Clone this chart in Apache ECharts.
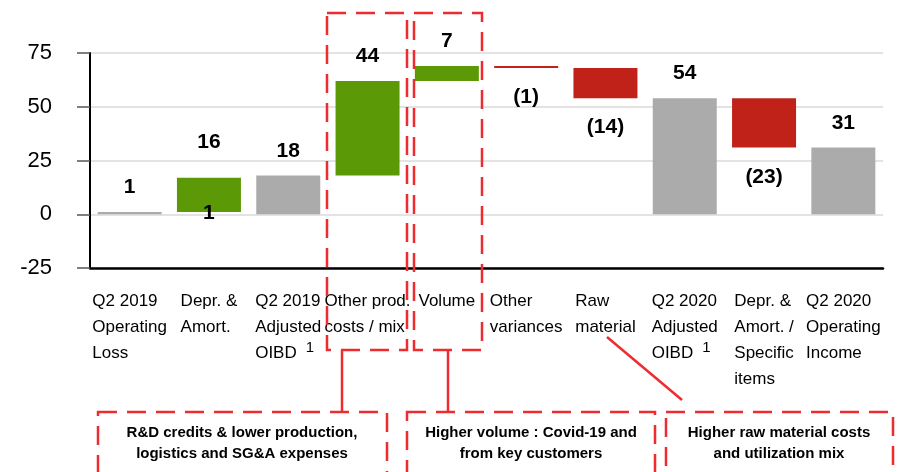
<!DOCTYPE html>
<html>
<head>
<meta charset="utf-8">
<title>Q2 2019 to Q2 2020 operating income bridge</title>
<script src="https://cdn.jsdelivr.net/npm/echarts@6/dist/echarts.min.js"></script>
<style>
  html, body { margin: 0; padding: 0; background: #fff; }
  #chart { width: 900px; height: 472px; }
</style>
</head>
<body>
<div id="chart"></div>
<script>
// Bridge categories (line breaks are drawn as stacked label lines)
const categories = [
  'Q2 2019\nOperating\nLoss',
  'Depr. &\nAmort.',
  'Q2 2019\nAdjusted\nOIBD',
  'Other prod.\ncosts / mix',
  'Volume',
  'Other\nvariances',
  'Raw\nmaterial',
  'Q2 2020\nAdjusted\nOIBD',
  'Depr. &\nAmort. /\nSpecific\nitems',
  'Q2 2020\nOperating\nIncome'
];
// Categories carrying footnote marker "1"
const footnoted = [2, 7];
// Bar type per step: totals start from zero, the others float on the running level
const kinds = ['total', 'increase', 'total', 'increase', 'increase', 'decrease', 'decrease', 'total', 'decrease', 'total'];
// Amount of each step (millions)
const amounts = [1, 16, 18, 44, 7, -1, -14, 54, -23, 31];
// Y axis ticks
const yMin = -25, yMax = 75, yStep = 25;

const colors = { total: '#ABABAB', increase: '#5B9A06', decrease: '#C0221A' };
const annotationRed = '#EE2B2F';

// Running level: invisible offset + visible bar height
const offsets = [];
const heights = [];
let level = 0;
kinds.forEach((k, i) => {
  const a = amounts[i];
  if (k === 'total') { offsets.push(0); heights.push(a); level = a; }
  else if (k === 'increase') { offsets.push(level); heights.push(a); level += a; }
  else { level += a; offsets.push(level); heights.push(-a); }
});

const fmt = v => v < 0 ? '(' + Math.abs(v) + ')' : String(v);

const visibleData = heights.map((h, i) => {
  const neg = amounts[i] < 0;
  return {
    value: h,
    itemStyle: { color: colors[kinds[i]] },
    label: {
      show: true,
      position: neg ? 'bottom' : 'top',
      distance: neg ? 19 : 14,
      offset: i === 1 ? [0, -11] : [0, 0],
      formatter: () => fmt(amounts[i])
    }
  };
});

// The starting level of the first floating step is marked at its foot
const offsetData = offsets.map((o, i) => ({
  value: o,
  label: i === 1 ? { show: true, position: 'inside', formatter: () => String(o) } : { show: false }
}));

const chart = echarts.init(document.getElementById('chart'), null, { renderer: 'canvas' });

const labelFormatter = (value, index) => {
  const lines = value.split('\n').map(l => '{t|' + l + '}');
  if (footnoted.includes(index)) lines[lines.length - 1] += '{sup|1}';
  return lines.join('\n');
};

chart.setOption({
  animation: false,
  textStyle: { fontFamily: 'Liberation Sans, Arial, sans-serif' },
  grid: { left: 90, right: 17, top: 53, bottom: 204, containLabel: false },
  xAxis: {
    type: 'category',
    data: categories,
    axisLine: { onZero: false, lineStyle: { color: '#000', width: 2.5 } },
    axisTick: { show: false },
    axisLabel: {
      interval: 0,
      margin: 20,
      color: '#000',
      formatter: labelFormatter,
      rich: {
        t: { fontSize: 17, lineHeight: 26, align: 'left', color: '#000', fontFamily: 'Liberation Sans' },
        sup: { fontSize: 15, lineHeight: 14, verticalAlign: 'top', align: 'left', padding: [0, 0, 0, 9], color: '#000', fontFamily: 'Liberation Sans' }
      }
    }
  },
  yAxis: {
    type: 'value',
    min: yMin, max: yMax, interval: yStep,
    axisLine: { show: true, lineStyle: { color: '#000', width: 2 } },
    axisTick: { show: true, length: 13, lineStyle: { color: '#555', width: 1.5 } },
    axisLabel: { margin: 38, fontSize: 22, color: '#000', fontFamily: 'Liberation Sans' },
    splitLine: { lineStyle: { color: '#DADADA', width: 1.5 } }
  },
  series: [
    {
      type: 'bar', stack: 'bridge', barWidth: 64,
      itemStyle: { color: 'rgba(0,0,0,0)' },
      label: { fontSize: 21, fontWeight: 'bold', color: '#000', fontFamily: 'Liberation Sans' },
      emphasis: { disabled: true },
      data: offsetData
    },
    {
      type: 'bar', stack: 'bridge', barWidth: 64,
      label: { fontSize: 21, fontWeight: 'bold', color: '#000', fontFamily: 'Liberation Sans' },
      emphasis: { disabled: true },
      data: visibleData
    }
  ],
  graphic: [
    // Highlight boxes around the two favourable drivers
    { type: 'rect', shape: { x: 327, y: 13, width: 80, height: 337 },
      style: { fill: 'none', stroke: annotationRed, lineWidth: 2.5, lineDash: [19, 10] }, z: 100 },
    { type: 'rect', shape: { x: 414, y: 13, width: 68, height: 337 },
      style: { fill: 'none', stroke: annotationRed, lineWidth: 2.5, lineDash: [19, 10] }, z: 100 },
    // Leader lines
    { type: 'line', shape: { x1: 342, y1: 350, x2: 342, y2: 412 },
      style: { stroke: annotationRed, lineWidth: 2.5 }, z: 100 },
    { type: 'line', shape: { x1: 448, y1: 350, x2: 448, y2: 412 },
      style: { stroke: annotationRed, lineWidth: 2.5 }, z: 100 },
    { type: 'line', shape: { x1: 607, y1: 337, x2: 682, y2: 400 },
      style: { stroke: annotationRed, lineWidth: 2.5 }, z: 100 },
    // Commentary boxes
    { type: 'rect', shape: { x: 98, y: 412, width: 289, height: 90 },
      style: { fill: 'none', stroke: annotationRed, lineWidth: 2.5, lineDash: [19, 10] }, z: 100 },
    { type: 'rect', shape: { x: 407, y: 412, width: 248, height: 90 },
      style: { fill: 'none', stroke: annotationRed, lineWidth: 2.5, lineDash: [19, 10] }, z: 100 },
    { type: 'rect', shape: { x: 666, y: 412, width: 227, height: 90 },
      style: { fill: 'none', stroke: annotationRed, lineWidth: 2.5, lineDash: [19, 10] }, z: 100 },
    { type: 'text', x: 242, y: 443, z: 100,
      style: { text: 'R&D credits & lower production,\nlogistics and SG&A expenses', fill: '#000',
        font: 'bold 15px "Liberation Sans"', align: 'center', verticalAlign: 'middle', lineHeight: 21 } },
    { type: 'text', x: 531, y: 443, z: 100,
      style: { text: 'Higher volume : Covid-19 and\nfrom key customers', fill: '#000',
        font: 'bold 15px "Liberation Sans"', align: 'center', verticalAlign: 'middle', lineHeight: 21 } },
    { type: 'text', x: 779, y: 443, z: 100,
      style: { text: 'Higher raw material costs\nand utilization mix', fill: '#000',
        font: 'bold 15px "Liberation Sans"', align: 'center', verticalAlign: 'middle', lineHeight: 21 } }
  ]
});
</script>
</body>
</html>
